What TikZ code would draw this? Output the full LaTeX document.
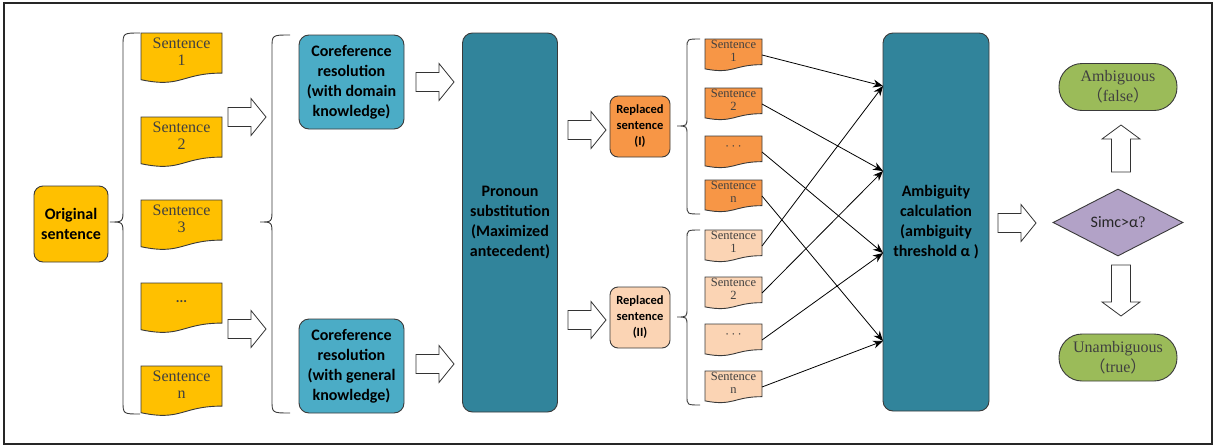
\documentclass[tikz,border=0pt]{standalone}
\usepackage{fontspec}
\setmainfont{Liberation Serif}
\newfontfamily\calfont{Carlito}
\newfontfamily\cjkfont{Noto Sans CJK SC}
\usetikzlibrary{shapes.geometric,arrows.meta}
\definecolor{cyellow}{HTML}{FFC000}
\definecolor{ccoref}{HTML}{4BACC6}
\definecolor{cteal}{HTML}{31849B}
\definecolor{corange}{HTML}{F79646}
\definecolor{cpeach}{HTML}{FBD4B4}
\definecolor{cgreen}{HTML}{9BBB59}
\definecolor{clav}{HTML}{B2A2C7}
\definecolor{cline}{HTML}{3A3A3A}
\definecolor{ctext}{HTML}{404040}
\tikzset{
  docline/.style={draw=cline,line width=0.9pt},
  doctext/.style={inner sep=0pt,align=center,text=ctext},
  box/.style={draw=cline,line width=0.9pt,align=center,inner sep=1pt,font=\calfont\bfseries\fontsize{16}{20}\selectfont},
  smallbox/.style={box,font=\calfont\bfseries\fontsize{12.5}{16}\selectfont},
  pill/.style={draw=cline,line width=0.9pt,fill=cgreen,align=center,minimum width=118pt,minimum height=47pt,rounded corners=23pt,inner sep=0pt,text=ctext,font=\fontsize{16}{20}\selectfont},
  blockarrow/.style={draw=black!80,line width=0.8pt,fill=white},
  bracestyle/.style={draw=cline,line width=0.9pt},
  conn/.style={draw=black,line width=0.8pt,-{Stealth[length=10pt,width=8pt]}},
  frame/.style={draw=black!85,line width=1.5pt}
}
% document shape: name, X, Y(top), W, H, fill, font, text
\newcommand\docshape[8]{%
  \draw[docline,fill=#6] (#2,#3) -- ({#2+#4},#3) -- ({#2+#4},{#3+0.802*#5})
    .. controls ({#2+#4/2},{#3+0.802*#5}) and ({#2+#4/2},{#3+1.107*#5}) .. (#2,{#3+0.934*#5}) -- cycle;
  \node[doctext,font=#7] (#1) at ({#2+#4/2},{#3+0.37*#5}) {#8};
  \coordinate (#1-r) at ({#2+#4},{#3+16});
}
% right block arrow: x0, yc
\newcommand\barrowR[2]{%
  \draw[blockarrow] (#1,{#2-9.5}) -- ({#1+23},{#2-9.5}) -- ({#1+23},{#2-18.5}) -- ({#1+38},#2)
    -- ({#1+23},{#2+18.5}) -- ({#1+23},{#2+9.5}) -- (#1,{#2+9.5}) -- cycle;}
% brace: xr, xv, xtip, top, mid, bot, r
\newcommand\mybrace[7]{%
  \draw[bracestyle] (#1,#4) .. controls (#2,#4) .. (#2,{#4+#7}) -- (#2,{#5-#7})
    .. controls (#2,#5) .. (#3,#5) .. controls (#2,#5) .. (#2,{#5+#7}) -- (#2,{#6-#7})
    .. controls (#2,#6) .. (#1,#6);}
\begin{document}
\begin{tikzpicture}[x=1pt,y=-1pt]
\useasboundingbox (0,0) rectangle (1214,447);
\draw[frame] (4,3) rectangle (1212,444);

% original sentence
\node[box,fill=cyellow,minimum width=74pt,minimum height=76pt,rounded corners=9pt] (orig) at (71,224) {Original\\sentence};

% braces
\mybrace{140}{123}{110}{33}{222}{414}{13}
\mybrace{290}{272}{260}{35}{222}{413}{13}
\mybrace{700}{687}{677}{39}{126}{214}{9}
\mybrace{700}{687}{677}{230}{317}{405}{9}

% yellow documents
\def\yf{\fontsize{16}{17}\selectfont}
\docshape{y1}{141}{33}{81}{50}{cyellow}{\yf}{Sentence\\1}
\docshape{y2}{141}{117}{81}{50}{cyellow}{\yf}{Sentence\\2}
\docshape{y3}{141}{200}{81}{50}{cyellow}{\yf}{Sentence\\3}
\docshape{y4}{141}{283}{81}{50}{cyellow}{\calfont\bfseries\fontsize{14}{17}\selectfont}{...}
\docshape{y5}{141}{366}{81}{50}{cyellow}{\yf}{Sentence\\n}

% block arrows
\barrowR{228}{117}
\barrowR{228}{329}
\barrowR{416}{82}
\barrowR{416}{364}
\barrowR{568}{130}
\barrowR{568}{320}
\barrowR{998}{223}

% coreference boxes
\node[box,fill=ccoref,minimum width=105pt,minimum height=94pt,rounded corners=10pt] (cr1) at (351.5,82) {Coreference\\resolution\\(with domain\\knowledge)};
\node[box,fill=ccoref,minimum width=105pt,minimum height=94pt,rounded corners=10pt] (cr2) at (351.5,366) {Coreference\\resolution\\(with general\\knowledge)};

% pronoun substitution
\node[box,fill=cteal,minimum width=95pt,minimum height=379pt,rounded corners=10pt] (pron) at (510,222.5) {Pronoun\\substitution\\(Maximized\\antecedent)};

% replaced sentences
\node[smallbox,fill=corange,minimum width=60pt,minimum height=61pt,rounded corners=8pt] (rep1) at (640,126.5) {Replaced\\sentence\\(I)};
\node[smallbox,fill=cpeach,minimum width=60pt,minimum height=61pt,rounded corners=8pt] (rep2) at (640,317.5) {Replaced\\sentence\\(II)};

% small documents
\def\smf{\fontsize{12.5}{13}\selectfont}
\def\dotsf{\fontsize{12.5}{13}\selectfont\color{black!55}}
\docshape{o1}{705}{39}{57}{32}{corange}{\smf}{Sentence\\1}
\docshape{o2}{705}{88}{57}{32}{corange}{\smf}{Sentence\\2}
\docshape{o3}{705}{136}{57}{32}{corange}{\dotsf}{·\,·\,·}
\docshape{o4}{705}{180}{57}{32}{corange}{\smf}{Sentence\\n}
\docshape{l1}{705}{230}{57}{32}{cpeach}{\smf}{Sentence\\1}
\docshape{l2}{705}{277}{57}{32}{cpeach}{\smf}{Sentence\\2}
\docshape{l3}{705}{324}{57}{32}{cpeach}{\dotsf}{·\,·\,·}
\docshape{l4}{705}{371}{57}{32}{cpeach}{\smf}{Sentence\\n}

% ambiguity calculation
\node[box,fill=cteal,minimum width=106pt,minimum height=378pt,rounded corners=10pt] (amb) at (936,222) {Ambiguity\\calculation\\(ambiguity\\threshold α )};
\coordinate (t1) at (883,86);
\coordinate (t2) at (883,171);
\coordinate (t3) at (883,253);
\coordinate (t4) at (883,341);

\draw[conn] (o1-r) -- (t1);
\draw[conn] (o2-r) -- (t2);
\draw[conn] (o3-r) -- (t3);
\draw[conn] (o4-r) -- (t4);
\draw[conn] (l1-r) -- (t1);
\draw[conn] (l2-r) -- (t2);
\draw[conn] (l3-r) -- (t3);
\draw[conn] (l4-r) -- (t4);

% decision
\node[diamond,draw=cline,line width=0.9pt,fill=clav,minimum width=130pt,minimum height=67pt,inner sep=0pt,font=\fontsize{16}{20}\selectfont,text=black!85] (dec) at (1118,222.5) {{\calfont Simc>α}?};
\node[pill] (amb1) at (1118,87) {Ambiguous\\{\cjkfont （}false{\cjkfont ）}};
\node[pill] (unamb) at (1118,357.5) {Unambiguous\\{\cjkfont （}true{\cjkfont ）}};

% up arrow
\draw[blockarrow] (1111.5,172) -- (1111.5,139) -- (1102,139) -- (1121,125) -- (1140,139) -- (1130.5,139) -- (1130.5,172) -- cycle;
% down arrow
\draw[blockarrow] (1111.5,265) -- (1111.5,302) -- (1102,302) -- (1121,316) -- (1140,302) -- (1130.5,302) -- (1130.5,265) -- cycle;
\end{tikzpicture}
\end{document}
